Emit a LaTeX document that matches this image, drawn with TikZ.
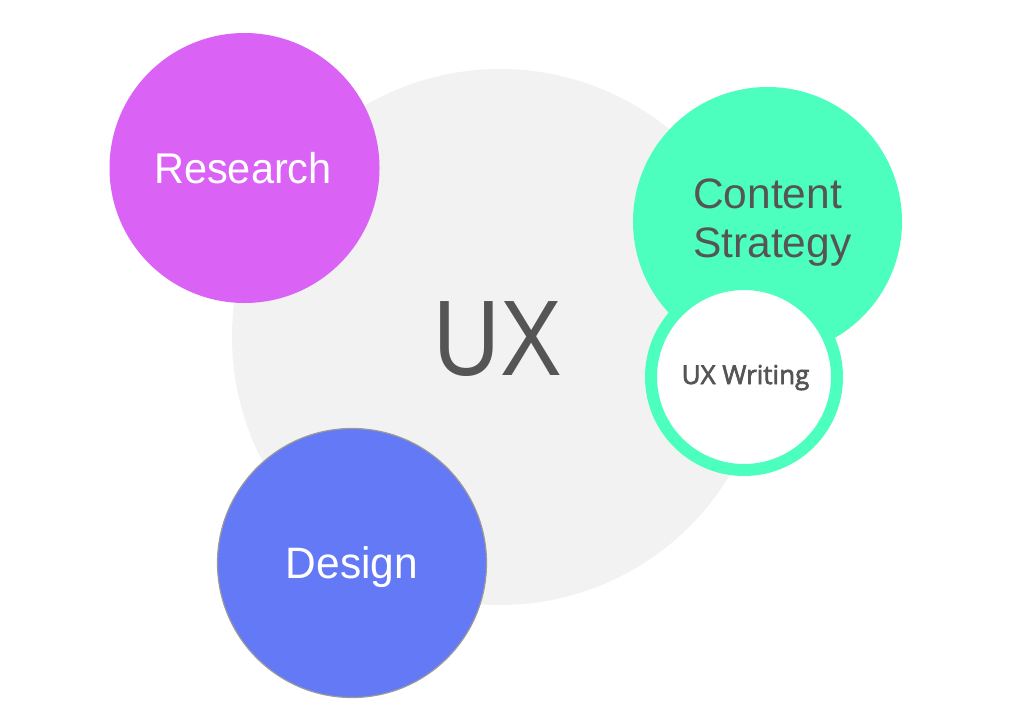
\documentclass[tikz,border=0pt]{standalone}
\usepackage{fontspec}
\setmainfont{Liberation Sans}[FakeStretch=0.965]
\newfontfamily\uxfont{Liberation Sans}[FakeStretch=0.86]
\newfontfamily\csfont{Liberation Sans}
\newfontfamily\smallfont{Open Sans}[FakeBold=2.6]
\definecolor{bggray}{HTML}{F2F2F2}
\definecolor{resmag}{HTML}{DA62F5}
\definecolor{desblue}{HTML}{6479F5}
\definecolor{congreen}{HTML}{4CFFBE}
\definecolor{txtgray}{HTML}{555555}
\definecolor{rimgray}{HTML}{9A9A9A}
\begin{document}
\begin{tikzpicture}[x=1pt,y=-1pt,
  blob/.style={circle,inner sep=0pt,minimum size=#1},
  lbl/.style={inner sep=0pt,anchor=base}]
\useasboundingbox (0,0) rectangle (1032,709);
\node[blob=536pt,fill=bggray] (ux) at (500,337) {};
\node[blob=270pt,fill=resmag] (research) at (244.5,168) {};
\node[blob=269pt,fill=desblue,draw=rimgray,line width=1.2pt] (design) at (352,563) {};
\node[blob=269pt,fill=congreen] (content) at (767.5,221.5) {};
\node[blob=186pt,fill=white,draw=congreen,line width=12pt] (writing) at (744,377) {};
\node[lbl,text=txtgray,font=\uxfont\fontsize{107.5}{110}\selectfont] (uxt) at (498,375) {UX};
\node[lbl,text=white,font=\fontsize{43}{46}\selectfont] (researcht) at (243,183) {Research};
\node[lbl,text=white,font=\fontsize{44}{47}\selectfont] (designt) at (352,578) {Design};
\node[lbl,anchor=base west,text=txtgray,font=\csfont\fontsize{42.5}{45}\selectfont] (contentt1) at (693,208) {Content};
\node[lbl,anchor=base west,text=txtgray,font=\csfont\fontsize{42.5}{45}\selectfont] (contentt2) at (693,257) {Strategy};
\node[lbl,text=txtgray,font=\smallfont\fontsize{26}{28}\selectfont] (writingt) at (745.5,384) {UX Writing};
\end{tikzpicture}
\end{document}
